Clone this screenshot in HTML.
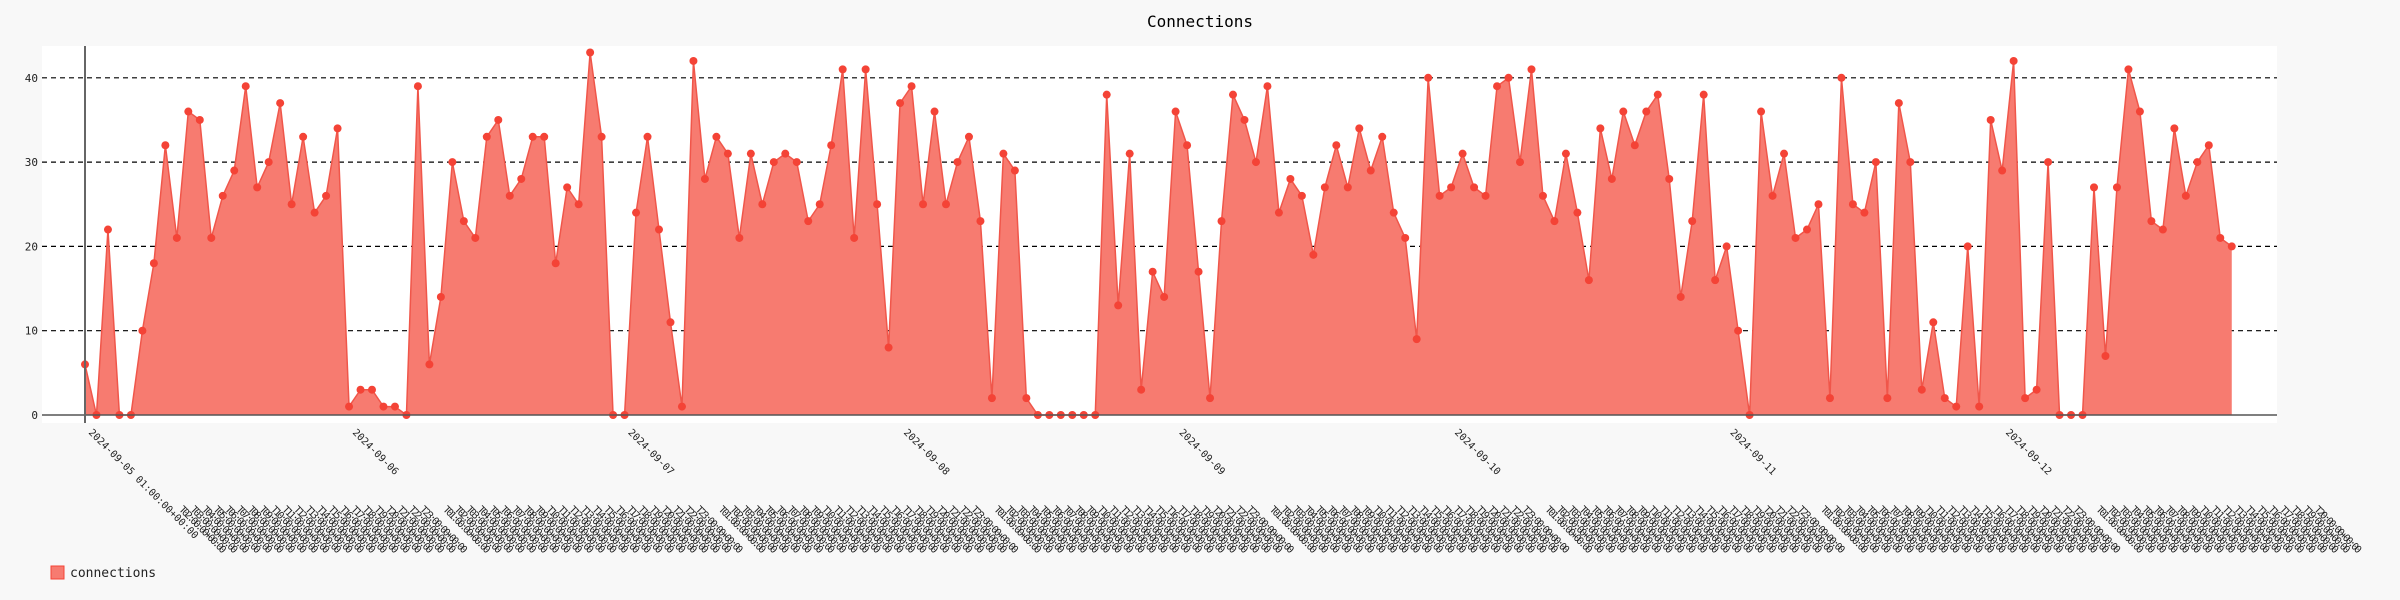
<!DOCTYPE html>
<html><head><meta charset="utf-8"><style>
html,body{margin:0;padding:0;background:#f8f8f8;}
svg{display:block;font-family:"DejaVu Sans Mono","Liberation Mono",monospace;}
</style></head><body>
<svg id="chart" width="2400" height="600" viewBox="0 0 2400 600" xmlns="http://www.w3.org/2000/svg">
<rect x="0" y="0" width="2400" height="600" fill="#f8f8f8"/>
<text x="1200" y="27" text-anchor="middle" font-size="16" fill="#000">Connections</text>
<rect x="42" y="46" width="2235" height="377" fill="#ffffff"/>
<g id="grid"></g>
<g id="series"></g>
<g id="axes"></g>
<g id="xlabels"></g>
<g>
<rect x="51" y="566" width="13" height="13" fill="#f77b70" stroke="#f44336" stroke-width="1"/>
<text x="70" y="577" font-size="13" fill="#222">connections</text>
</g>
</svg>
<script>
const values = [6,0,22,0,0,10,18,32,21,36,
35,21,26,29,39,27,30,37,25,33,
24,26,34,1,3,3,1,1,0,39,
6,14,30,23,21,33,35,26,28,33,
33,18,27,25,43,33,0,0,24,33,
22,11,1,42,28,33,31,21,31,25,
30,31,30,23,25,32,41,21,41,25,
8,37,39,25,36,25,30,33,23,2,
31,29,2,0,0,0,0,0,0,38,
13,31,3,17,14,36,32,17,2,23,
38,35,30,39,24,28,26,19,27,32,
27,34,29,33,24,21,9,40,26,27,
31,27,26,39,40,30,41,26,23,31,
24,16,34,28,36,32,36,38,28,14,
23,38,16,20,10,0,36,26,31,21,
22,25,2,40,25,24,30,2,37,30,
3,11,2,1,20,1,35,29,42,2,
3,30,0,0,0,27,7,27,41,36,
23,22,34,26,30,32,21,20];
const yTicks = [0,10,20,30,40];
const startDay = 5;
const startHour = 1;

const NS = "http://www.w3.org/2000/svg";
const X0 = 85, DX = 11.48, Y0 = 415, PER = 8.43;
function xs(i){return X0 + i*DX;}
function ys(v){return Y0 - v*PER;}
function mk(tag, attrs, parent){const e=document.createElementNS(NS,tag);for(const k in attrs)e.setAttribute(k,attrs[k]);parent.appendChild(e);return e;}

const grid = document.getElementById('grid');
const axes = document.getElementById('axes');
yTicks.forEach(t=>{
  if(t>0){
    const g = mk('line',{x1:42,x2:2277,y1:ys(t),y2:ys(t),stroke:'#000','stroke-width':1.2,'stroke-dasharray':'5,4'},grid);
    
    
  }
  const lb = mk('text',{x:38,y:ys(t)+4,'text-anchor':'end','font-size':11,fill:'#222'},axes);
  lb.textContent = t;
  
  
});

const series = document.getElementById('series');
let d = 'M'+xs(0)+','+Y0;
values.forEach((v,i)=>{d+=' L'+xs(i)+','+ys(v);});
d += ' L'+xs(values.length-1)+','+Y0+' Z';
const area = mk('path',{d:d,fill:'#f77b70',stroke:'none'},series);


let ld = '';
values.forEach((v,i)=>{ld+=(i?' L':'M')+xs(i)+','+ys(v);});
const line = mk('path',{d:ld,fill:'none',stroke:'#f0564a','stroke-width':1.5},series);


values.forEach((v,i)=>{
  const c = mk('circle',{cx:xs(i),cy:ys(v),r:4,fill:'#f44336'},series);
  
  
});

const xa = mk('line',{x1:42,x2:2277,y1:Y0,y2:Y0,stroke:'#555','stroke-width':1.5},axes);


const ya = mk('line',{x1:X0,x2:X0,y1:46,y2:423,stroke:'#666','stroke-width':2},axes);



const xl = document.getElementById('xlabels');
function pad(n){return (n<10?'0':'')+n;}
values.forEach((v,i)=>{
  const tot = startHour + i;
  const h = tot % 24;
  const day = startDay + Math.floor(tot/24);
  let txt, ox, oy, short=false;
  if(i===0){txt='2024-09-'+pad(day)+' '+pad(h)+':00:00+00:00';ox=3;oy=18;}
  else if(h===0){txt='2024-09-'+pad(day);ox=3;oy=18;}
  else {txt='T'+pad(h)+':00:00+00:00';ox=82;oy=95;short=true;}
  const x = xs(i)+ox, y = Y0+oy;
  const attrs = {x:x,y:y,'font-size':10,fill:'#222',transform:'rotate(45 '+x+' '+y+')'};
  if(short){attrs.textLength=62;attrs.lengthAdjust='spacing';}
  const t = mk('text',attrs,xl);
  t.textContent = txt;
  
  
});
</script>
</body></html>
